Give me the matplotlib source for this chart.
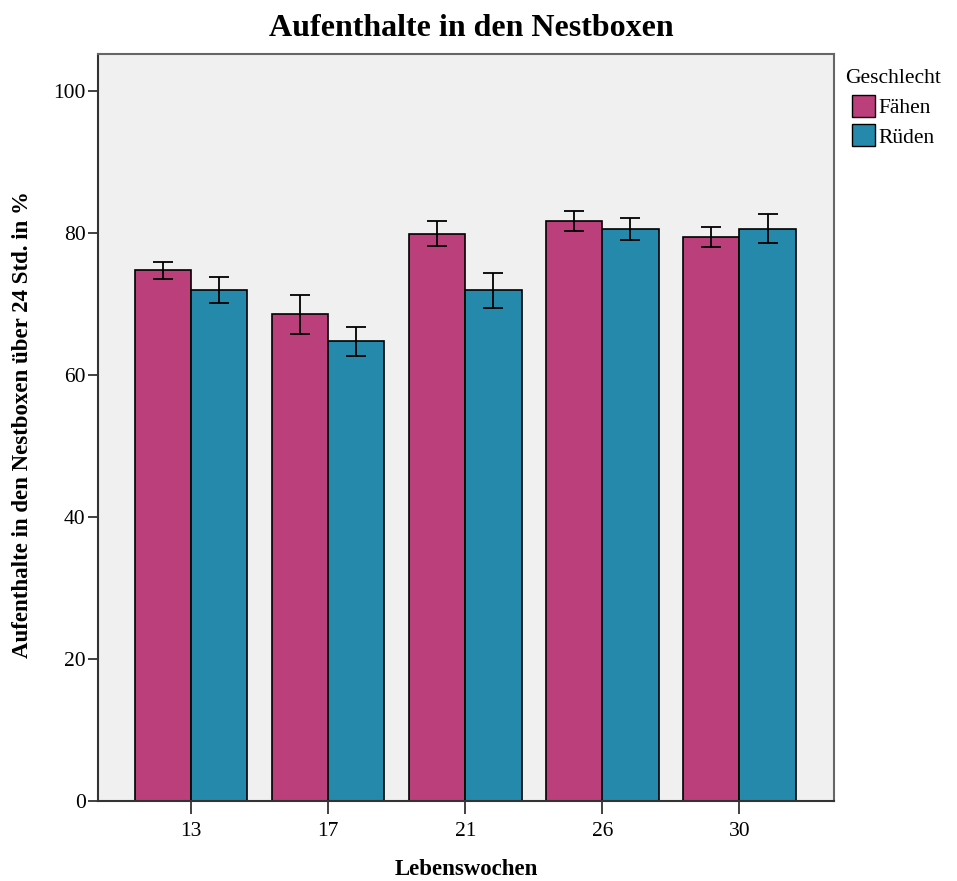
import numpy as np
import matplotlib.pyplot as plt
from matplotlib.patches import Patch

# Daten
wochen = ["13", "17", "21", "26", "30"]
faehen = [74.7, 68.5, 79.9, 81.7, 79.4]
rueden = [71.9, 64.7, 71.9, 80.5, 80.6]
faehen_err = [1.25, 2.7, 1.75, 1.45, 1.45]
rueden_err = [1.85, 2.05, 2.45, 1.55, 2.05]

plt.rcParams['font.family'] = ['Liberation Serif', 'DejaVu Serif']

col_f = '#BA3F7B'
col_r = '#2589AC'

fig = plt.figure(figsize=(9.57, 8.81), dpi=100)
ax_h = 800.7 - 54
ax_w = 834 - 98
ax = fig.add_axes([98 / 957, 1 - 800.7 / 881, ax_w / 957, ax_h / 881])
ax.set_facecolor('#F0F0F0')

x = np.arange(len(wochen))
w = 0.41
err_kw = dict(ecolor='black', capsize=7, elinewidth=1.3, capthick=1.3)
ax.bar(x - w / 2, faehen, w, color=col_f, edgecolor='black', linewidth=1.2,
       yerr=faehen_err, error_kw=err_kw, zorder=2)
ax.bar(x + w / 2, rueden, w, color=col_r, edgecolor='black', linewidth=1.2,
       yerr=rueden_err, error_kw=err_kw, zorder=2)

ax.set_xlim(-0.68, 4.69)
ax.set_ylim(0, 105.2)
ax.set_xticks(x)
ax.set_xticklabels(wochen)
ax.set_yticks([0, 20, 40, 60, 80, 100])
ax.tick_params(axis='both', labelsize=15.5, length=7, width=1.3, color='#333333')
ax.tick_params(axis='x', length=9, pad=6)
ax.tick_params(axis='y', pad=2)

for s in ['left', 'bottom']:
    ax.spines[s].set_color('#333333')
    ax.spines[s].set_linewidth(1.5)
for s in ['top', 'right']:
    ax.spines[s].set_color('#666666')
    ax.spines[s].set_linewidth(1.5)

ax.set_xlabel('Lebenswochen', fontsize=16.5, fontweight='bold', va='center')
ax.xaxis.set_label_coords((466 - 98) / ax_w, -69 / ax_h)
ax.set_ylabel('Aufenthalte in den Nestboxen über 24 Std. in %', fontsize=16.5,
              fontweight='bold', va='center')
ax.yaxis.set_label_coords(-(98 - 23) / ax_w, (800.7 - 425) / ax_h)
fig.text(471 / 957, 1 - 28 / 881, 'Aufenthalte in den Nestboxen', ha='center', va='center',
         fontsize=23, fontweight='bold')

handles = [Patch(facecolor=col_f, edgecolor='black', label='Fähen'),
           Patch(facecolor=col_r, edgecolor='black', label='Rüden')]
leg = ax.legend(handles=handles, title='Geschlecht', loc='upper left',
                bbox_to_anchor=(0.995, 1.0), frameon=False, fontsize=15.5,
                title_fontsize=15.5, handlelength=1.05, handleheight=1.2,
                handletextpad=0.15, labelspacing=0.3, borderaxespad=0.3)

fig.savefig('out.png', dpi=100)
